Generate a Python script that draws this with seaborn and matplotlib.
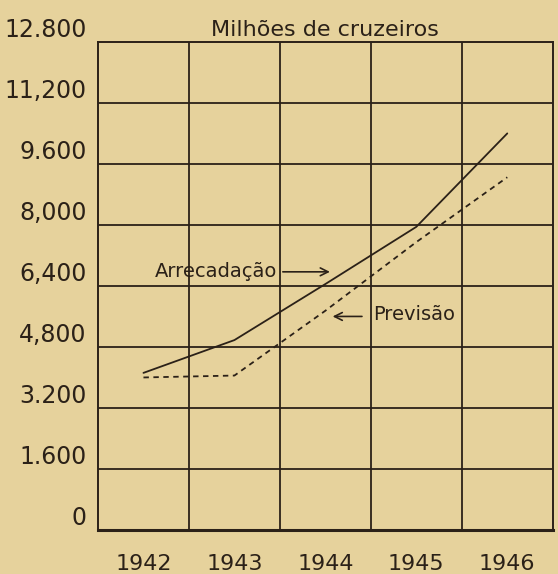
import numpy as np
import pandas as pd
import matplotlib
matplotlib.use("Agg")
import matplotlib.pyplot as plt
import seaborn as sns

years = ["1942", "1943", "1944", "1945", "1946"]
arrecadacao = [4120, 4980, 6450, 7950, 10400]
previsao = [4000, 4050, 5750, 7550, 9250]
y_ticks = [0, 1600, 3200, 4800, 6400, 8000, 9600, 11200, 12800]
y_labels = ["0", "1.600", "3.200", "4,800", "6,400", "8,000", "9.600", "11,200", "12.800"]

bg = "#E6D29C"
ink = "#2B2118"

df = pd.DataFrame({"ano": np.arange(len(years)),
                   "Arrecadação": arrecadacao,
                   "Previsão": previsao})

sns.set_theme(style="white")
plt.rcParams["font.family"] = ["DejaVu Sans"]

fig = plt.figure(figsize=(5.58, 5.74), dpi=100)
fig.patch.set_facecolor(bg)
ax = fig.add_axes([0.1756, 0.0767, 0.815, 0.8503])
ax.set_facecolor(bg)

sns.lineplot(data=df, x="ano", y="Arrecadação", ax=ax, color=ink, linewidth=1.3)
sns.lineplot(data=df, x="ano", y="Previsão", ax=ax, color=ink, linewidth=1.3,
             linestyle=(0, (3, 2.5)))

ax.set_xlim(-0.5, len(years) - 0.5)
ax.set_ylim(0, 12800)

# grid: vertical lines between years, horizontal at each tick
for xv in np.arange(0.5, len(years) - 0.5, 1):
    ax.axvline(xv, color=ink, linewidth=1.3, zorder=0)
for yv in y_ticks[1:-1]:
    ax.axhline(yv, color=ink, linewidth=1.3, zorder=0)

for side in ["left", "top", "bottom", "right"]:
    ax.spines[side].set_color(ink)
    ax.spines[side].set_linewidth(1.4)
ax.spines["bottom"].set_linewidth(2.2)

ax.set_xticks(np.arange(len(years)))
ax.set_xticklabels(years, fontsize=16, color=ink)
ax.set_yticks(y_ticks)
ax.set_yticklabels(y_labels, fontsize=17, color=ink, va="bottom")
ax.tick_params(length=0)
ax.tick_params(axis="y", pad=8)
ax.tick_params(axis="x", pad=17)
ax.set_xlabel("")
ax.set_ylabel("")

ax.set_title("Milhões de cruzeiros", fontsize=16, color=ink, pad=4)

ax.annotate("Arrecadação", xy=(2.05, 6770), xytext=(0.12, 6770),
            fontsize=14, color=ink, va="center", ha="left",
            arrowprops=dict(arrowstyle="->", color=ink, lw=1.2,
                            shrinkA=2, shrinkB=0, relpos=(1, 0.5)))
ax.annotate("Previsão", xy=(2.08, 5600), xytext=(2.53, 5650),
            fontsize=14, color=ink, va="center", ha="left",
            arrowprops=dict(arrowstyle="->", color=ink, lw=1.2,
                            shrinkA=6, shrinkB=0, relpos=(0, 0.4)))

fig.savefig("out.png", dpi=100, facecolor=bg)
